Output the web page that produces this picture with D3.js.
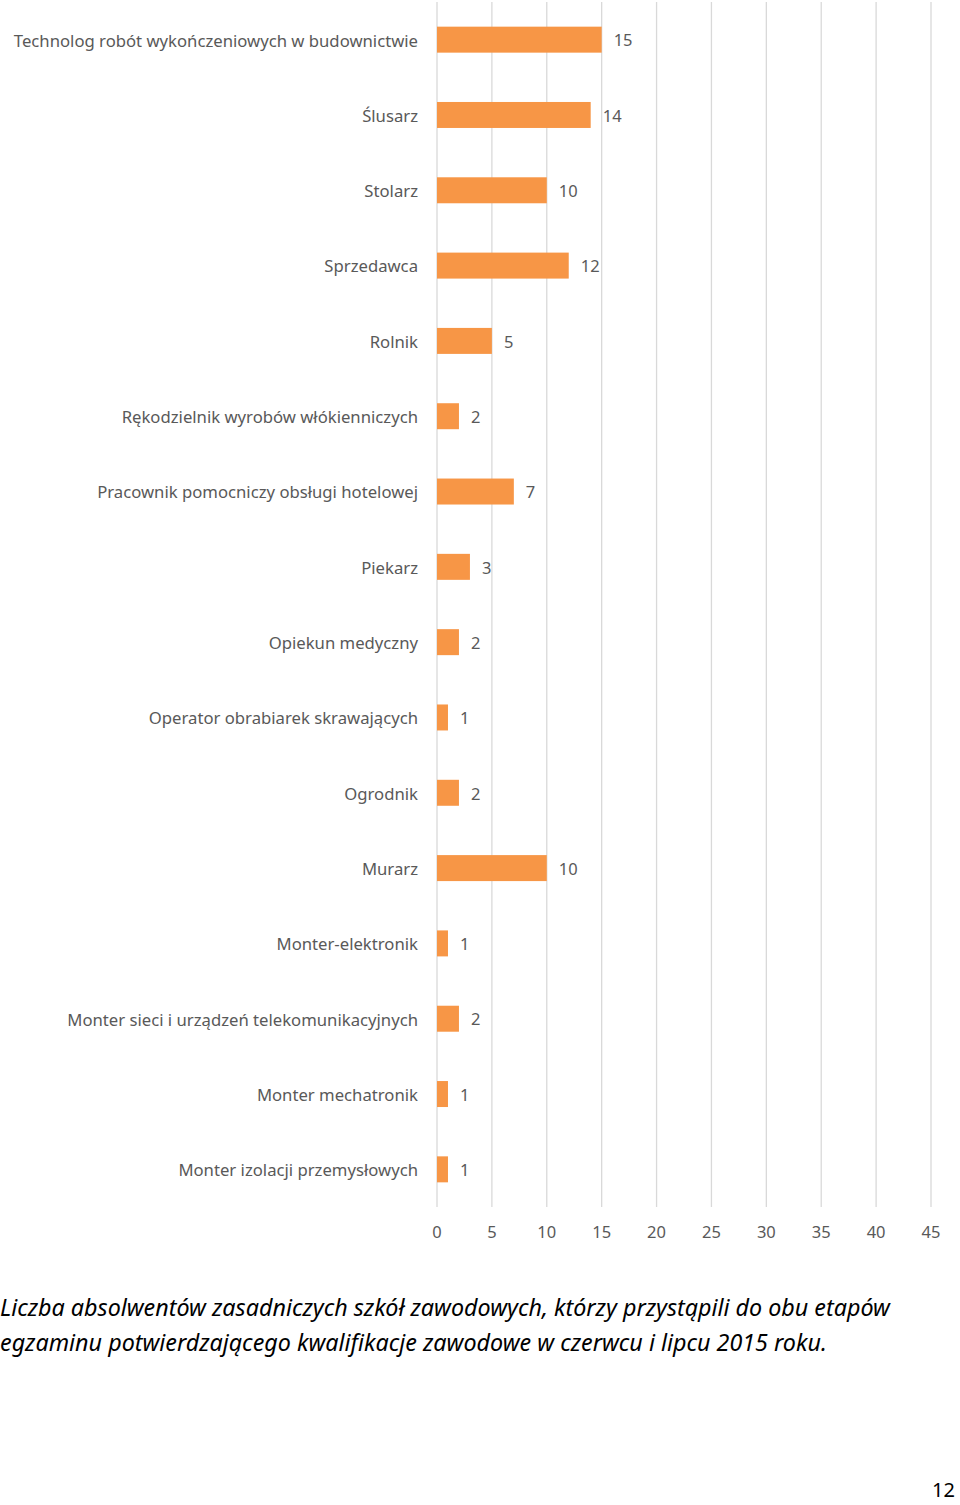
<!DOCTYPE html>
<html><head><meta charset="utf-8">
<script src="https://cdn.jsdelivr.net/npm/d3@7"></script>
<style>body{margin:0;background:#fff}</style>
</head><body>
<script>
const categories = ["Technolog robót wykończeniowych w budownictwie","Ślusarz","Stolarz","Sprzedawca","Rolnik","Rękodzielnik wyrobów włókienniczych","Pracownik pomocniczy obsługi hotelowej","Piekarz","Opiekun medyczny","Operator obrabiarek skrawających","Ogrodnik","Murarz","Monter-elektronik","Monter sieci i urządzeń telekomunikacyjnych","Monter mechatronik","Monter izolacji przemysłowych"];
const values = [15,14,10,12,5,2,7,3,2,1,2,10,1,2,1,1];
const ticks = [0,5,10,15,20,25,30,35,40,45];
const captionLines = ["Liczba absolwentów zasadniczych szkół zawodowych, którzy przystąpili do obu etapów","egzaminu potwierdzającego kwalifikacje zawodowe w czerwcu i lipcu 2015 roku."];
const pageNumber = "12";

const W=960,H=1505;
const svg=d3.select("body").append("svg").attr("width",W).attr("height",H);
const x=d3.scaleLinear().domain([0,45]).range([437,931]);
const y=d3.scaleBand().domain(categories).range([2,1207]).paddingInner(0.655).paddingOuter(0.3275);
const font="'Noto Sans', 'Open Sans', sans-serif";
const grey="#595959";

svg.append("g").selectAll("line").data(ticks).join("line")
  .attr("x1",d=>x(d)).attr("x2",d=>x(d)).attr("y1",2).attr("y2",1207)
  .attr("stroke","#d9d9d9").attr("stroke-width",1.3);

svg.append("g").selectAll("rect").data(values).join("rect")
  .attr("x",x(0)).attr("y",(d,i)=>y(categories[i]))
  .attr("width",d=>x(d)-x(0)).attr("height",y.bandwidth())
  .attr("fill","#f79646");

svg.append("g").selectAll("text").data(values).join("text")
  .attr("x",d=>x(d)+12).attr("y",(d,i)=>y(categories[i])+y.bandwidth()/2+1)
  .attr("dy","0.35em").attr("font-family",font).attr("font-size",16.5).attr("fill",grey)
  .text(d=>d);

svg.append("g").selectAll("text").data(categories).join("text")
  .attr("x",418).attr("y",d=>y(d)+y.bandwidth()/2+1).attr("dy","0.35em")
  .attr("text-anchor","end").attr("font-family",font).attr("font-size",16.7).attr("fill",grey)
  .text(d=>d);

svg.append("g").selectAll("text").data(ticks).join("text")
  .attr("x",d=>x(d)).attr("y",1232).attr("dy","0.35em").attr("text-anchor","middle")
  .attr("font-family",font).attr("font-size",16.5).attr("fill",grey).text(d=>d);

svg.append("g").selectAll("text").data(captionLines).join("text")
  .attr("x",0).attr("y",(d,i)=>1316+i*35)
  .attr("font-family",font).attr("font-style","italic").attr("font-size",23.3).attr("fill","#000")
  .text(d=>d);

svg.append("text").attr("x",955).attr("y",1497).attr("text-anchor","end")
  .attr("font-family",font).attr("font-size",20).attr("fill","#000").text(pageNumber);
</script>
</body></html>
